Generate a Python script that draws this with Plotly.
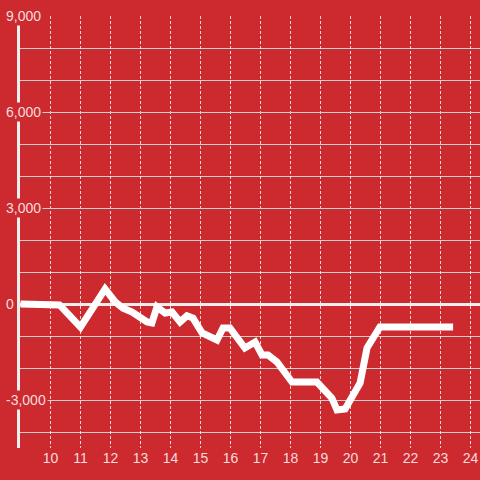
import plotly.graph_objects as go

x_vals = [9.0, 10.3, 11.0, 11.82, 12.15, 12.42, 12.72, 13.22, 13.38, 13.55, 13.82, 14.05,
          14.32, 14.55, 14.75, 15.05, 15.55, 15.75, 15.98, 16.32, 16.48, 16.82, 17.05,
          17.25, 17.55, 17.8, 18.05, 18.88, 19.25, 19.38, 19.55, 19.82, 20.32, 20.55,
          20.98, 23.42]
y_vals = [0, -30, -720, 470, 70, -130, -250, -560, -590, -90, -280, -250,
          -560, -370, -440, -900, -1125, -750, -750, -1125, -1375, -1190, -1590,
          -1590, -1810, -2125, -2440, -2440, -2780, -2940, -3310, -3280, -2470, -1375,
          -720, -720]

x_ticks = list(range(10, 25))
y_ticks = [9000, 6000, 3000, 0, -3000]
y_tick_labels = ["9,000", "6,000", "3,000", "0", "-3,000"]

BG = "#cc2a2f"
LABEL = "#f5dcdc"
FONT = "Liberation Sans, Arial, sans-serif"

fig = go.Figure()
fig.add_trace(go.Scatter(x=x_vals, y=y_vals, mode="lines",
                         line=dict(color="white", width=7), hoverinfo="skip"))

for v, t in zip(y_ticks, y_tick_labels):
    fig.add_annotation(x=0, xref="paper", y=v, yref="y", text=t, showarrow=False,
                       xanchor="left", xshift=-16, bgcolor=BG, borderpad=1,
                       font=dict(family=FONT, size=14, color=LABEL))

fig.update_layout(
    width=480, height=480,
    margin=dict(l=20, r=0, t=16, b=32),
    paper_bgcolor=BG, plot_bgcolor=BG,
    showlegend=False,
    xaxis=dict(range=[8.9833, 24.3167], tickvals=x_ticks, ticktext=[str(v) for v in x_ticks],
               showgrid=True, gridcolor="rgba(255,255,255,0.8)", griddash="3px,2px", gridwidth=1,
               zeroline=False, showline=False, ticks="",
               tickfont=dict(family=FONT, size=14, color=LABEL)),
    yaxis=dict(range=[-4500, 9000], tickvals=y_ticks, showticklabels=False,
               showgrid=True, gridcolor="#cfcfcf", gridwidth=1,
               minor=dict(dtick=1000, tick0=0, showgrid=True, gridcolor="#cfcfcf", gridwidth=1),
               zeroline=True, zerolinecolor="#eeeeee", zerolinewidth=3,
               showline=True, linecolor="#eeeeee", linewidth=3, ticks=""),
)

fig.write_html("out.html", config={"displayModeBar": False},
               post_script="document.body.style.margin='0';document.body.style.background='%s';" % BG)
